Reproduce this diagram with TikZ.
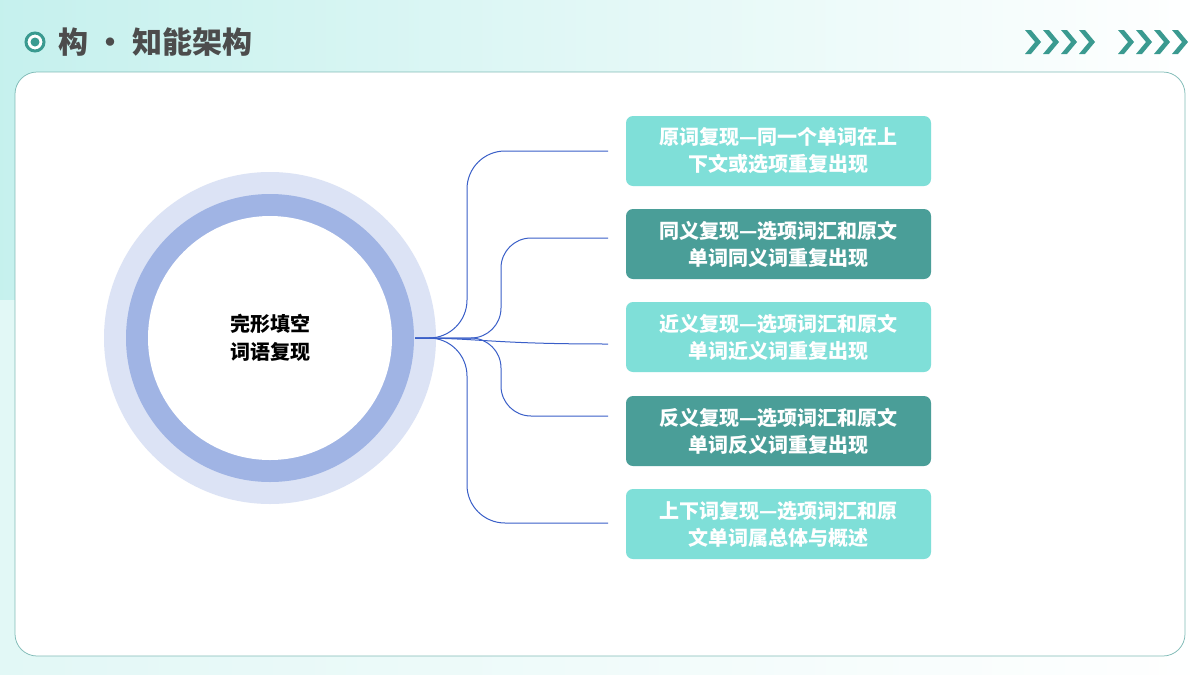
\documentclass[tikz,border=0pt]{standalone}
\usepackage{fontspec}
\setmainfont{Noto Sans CJK SC}
\usetikzlibrary{positioning}
\definecolor{teallight}{RGB}{127,223,216}
\definecolor{tealdark}{RGB}{74,158,152}
\definecolor{linkblue}{RGB}{58,95,200}
\definecolor{ringouter}{RGB}{220,227,245}
\definecolor{ringinner}{RGB}{160,180,228}
\definecolor{chev}{RGB}{58,154,144}
\tikzset{every picture/.style={line width=0.75pt}}
\tikzset{
  itembox/.style={rounded corners=7pt, minimum width=305pt, minimum height=70pt, align=center,
    text=white, font=\fontsize{20}{27}\selectfont\bfseries, draw=none},
  lightbox/.style={itembox, fill=teallight},
  darkbox/.style={itembox, fill=tealdark},
  link/.style={draw=linkblue, line width=1pt, rounded corners=38pt}
}
\begin{document}
\begin{tikzpicture}[x=1pt,y=1pt,yscale=-1,xscale=1]
\useasboundingbox (0,0) rectangle (1200,675);
% background
\shade[left color=teallight!45, right color=white] (0,0) rectangle (1200,675);
\fill[white, opacity=0.5] (0,300) rectangle (1200,675);
% card
\draw[draw=tealdark!70, fill=white, rounded corners=22pt] (15,72) rectangle (1185,656);
% title
\draw[chev, line width=3pt, fill=white] (35,42) circle (9);
\fill[chev] (35,42) circle (4.5);
\node[anchor=west, text=black!70, font=\fontsize{30}{30}\selectfont\bfseries] (title) at (55,42) {构 · 知能架构};
% chevrons
\foreach \x in {1025,1043,1061,1079,1118,1136,1154,1172}
  \fill[chev] (\x,30) -- ++(6,0) -- ++(10,12) -- ++(-10,12) -- ++(-6,0) -- ++(10,-12) -- cycle;
% circles
\fill[ringouter] (270,338) circle (166);
\fill[ringinner] (270,338) circle (144);
\fill[white] (270,338) circle (122);
\node[align=center, font=\fontsize{20}{28}\selectfont\bfseries] (core) at (270,338) {完形填空\\词语复现};
\coordinate (hub) at (415,338);
% boxes
\node[lightbox] (b1) at (778.5,151) {原词复现---同一个单词在上\\下文或选项重复出现};
\node[darkbox] (b2) at (778.5,244) {同义复现---选项词汇和原文\\单词同义词重复出现};
\node[lightbox] (b3) at (778.5,337) {近义复现---选项词汇和原文\\单词近义词重复出现};
\node[darkbox] (b4) at (778.5,431) {反义复现---选项词汇和原文\\单词反义词重复出现};
\node[lightbox] (b5) at (778.5,524) {上下词复现---选项词汇和原\\文单词属总体与概述};
% links
\coordinate (e1) at (608,151);
\coordinate (e2) at (608,238);
\coordinate (e3) at (608,344);
\coordinate (e4) at (608,416);
\coordinate (e5) at (608,523);
\draw[link] (hub) -- ++(52,0) |- (e1);
\draw[link, rounded corners=30pt] (hub) -- ++(86,0) |- (e2);
\draw[link] (hub) .. controls (480,338) and (490,344) .. (e3);
\draw[link, rounded corners=30pt] (hub) -- ++(86,0) |- (e4);
\draw[link] (hub) -- ++(52,0) |- (e5);
\end{tikzpicture}
\end{document}
